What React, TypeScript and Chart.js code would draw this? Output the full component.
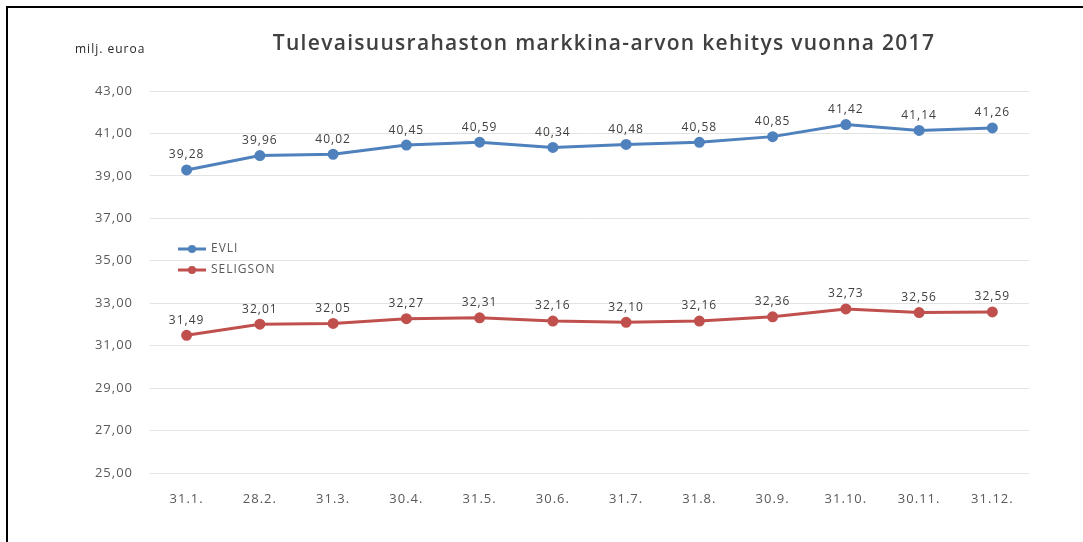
import React, { useEffect, useRef } from "react";
import { Chart, registerables } from "chart.js";

Chart.register(...registerables);

const categories = ["31.1.", "28.2.", "31.3.", "30.4.", "31.5.", "30.6.", "31.7.", "31.8.", "30.9.", "31.10.", "30.11.", "31.12."];
const evli = [39.28, 39.96, 40.02, 40.45, 40.59, 40.34, 40.48, 40.58, 40.85, 41.42, 41.14, 41.26];
const seligson = [31.49, 32.01, 32.05, 32.27, 32.31, 32.16, 32.1, 32.16, 32.36, 32.73, 32.56, 32.59];
const seriesNames = ["EVLI", "SELIGSON"];
const titleText = "Tulevaisuusrahaston markkina-arvon kehitys vuonna 2017";
const unitText = "milj. euroa";

const BLUE = "#4f81bd";
const RED = "#c0504d";
const FONT = "'Open Sans', sans-serif";

const fmt = (v: number) => v.toFixed(2).replace(".", ",");

const spacingPlugin = {
  id: "spacing",
  beforeInit(chart: any) { chart.ctx.letterSpacing = "1px"; },
  beforeUpdate(chart: any) { chart.ctx.letterSpacing = "1px"; },
  beforeDraw(chart: any) { chart.ctx.letterSpacing = "1px"; },
};

const decorPlugin = {
  id: "decor",
  afterDatasetsDraw(chart: any) {
    const ctx = chart.ctx;
    ctx.save();
    ctx.letterSpacing = "1px";
    chart.data.datasets.forEach((ds: any, i: number) => {
      const meta = chart.getDatasetMeta(i);
      meta.data.forEach((pt: any, j: number) => {
        ctx.fillStyle = "#404040";
        ctx.font = `12px ${FONT}`;
        ctx.textAlign = "center";
        ctx.textBaseline = "middle";
        ctx.fillText(fmt(ds.data[j]), pt.x, pt.y - 15);
      });
    });
    const area = chart.chartArea;
    ctx.fillStyle = "#404040";
    ctx.font = `600 21px ${FONT}`;
    ctx.letterSpacing = "1.3px";
    ctx.textAlign = "center";
    ctx.textBaseline = "middle";
    ctx.fillText(titleText, 604, 44);
    ctx.letterSpacing = "1px";
    ctx.font = `12px ${FONT}`;
    ctx.fillStyle = "#262626";
    ctx.textAlign = "left";
    ctx.fillText(unitText, 75, 50);
    const colors = [BLUE, RED];
    const ys = [249, 270];
    seriesNames.forEach((name, i) => {
      const y = ys[i];
      ctx.strokeStyle = colors[i];
      ctx.lineWidth = 3;
      ctx.beginPath();
      ctx.moveTo(area.left + 28, y);
      ctx.lineTo(area.left + 56, y);
      ctx.stroke();
      ctx.fillStyle = colors[i];
      ctx.beginPath();
      ctx.arc(area.left + 42, y, 4, 0, Math.PI * 2);
      ctx.fill();
      ctx.fillStyle = "#595959";
      ctx.font = `12px ${FONT}`;
      ctx.textAlign = "left";
      ctx.textBaseline = "middle";
      ctx.fillText(name, area.left + 61, y);
    });
    ctx.restore();
  },
};

export default function App() {
  const ref = useRef<HTMLCanvasElement>(null);
  useEffect(() => {
    if (!ref.current) return;
    const chart = new Chart(ref.current, {
      type: "line",
      data: {
        labels: categories,
        datasets: [
          {
            label: seriesNames[0],
            data: evli,
            borderColor: BLUE,
            backgroundColor: BLUE,
            borderWidth: 3,
            pointRadius: 4,
            pointBackgroundColor: BLUE,
            pointBorderColor: BLUE,
            tension: 0,
          },
          {
            label: seriesNames[1],
            data: seligson,
            borderColor: RED,
            backgroundColor: RED,
            borderWidth: 3,
            pointRadius: 4,
            pointBackgroundColor: RED,
            pointBorderColor: RED,
            tension: 0,
          },
        ],
      },
      options: {
        animation: false,
        responsive: false,
        layout: { padding: { left: 0, right: 54, top: 91, bottom: 39 } },
        plugins: { legend: { display: false }, title: { display: false }, tooltip: { enabled: false } },
        scales: {
          x: {
            offset: true,
            grid: { display: false },
            border: { display: false },
            ticks: { color: "#595959", font: { family: FONT, size: 13 }, padding: 10, maxRotation: 0 },
            afterFit: (s: any) => { s.height = 30; },
          },
          y: {
            min: 25,
            max: 43,
            grid: { color: "#e3e3e3", drawTicks: false, lineWidth: 1 },
            border: { display: false },
            ticks: {
              stepSize: 2,
              color: "#595959",
              font: { family: FONT, size: 13 },
              padding: 17,
              callback: (v: any) => fmt(Number(v)),
            },
            afterFit: (s: any) => { s.width = 150; },
          },
        },
      },
      plugins: [spacingPlugin, decorPlugin],
    });
    return () => chart.destroy();
  }, []);
  return (
    <div style={{ position: "fixed", left: 0, top: 0, width: 1083, height: 542, background: "#fff" }}>
      <div style={{ position: "absolute", left: 6, top: 6, right: -10, bottom: -10, borderLeft: "2px solid #000", borderTop: "2px solid #000" }} />
      <canvas ref={ref} width={1083} height={542} style={{ position: "absolute", left: 0, top: 0 }} />
    </div>
  );
}
